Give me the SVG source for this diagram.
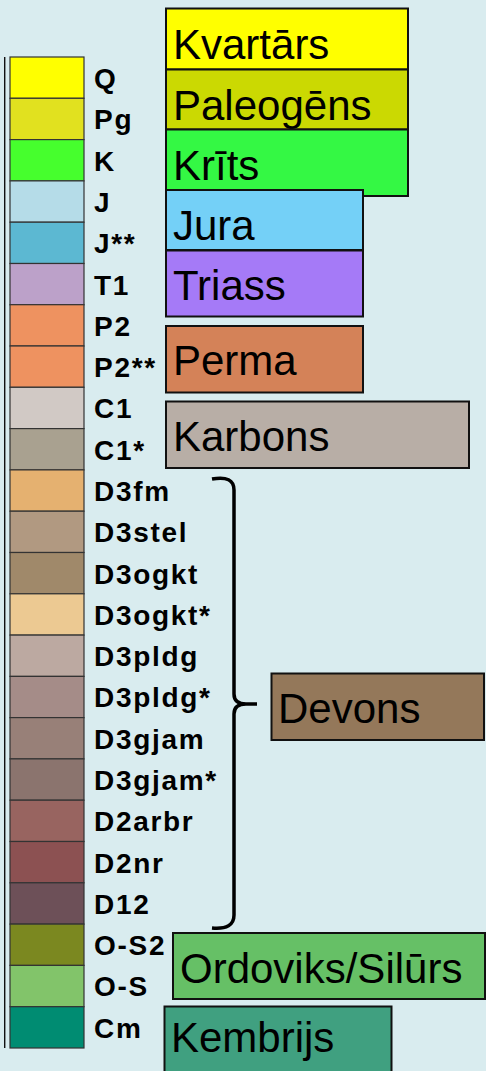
<svg xmlns="http://www.w3.org/2000/svg" width="486" height="1071" viewBox="0 0 486 1071">
<style>
.sw{stroke:#333;stroke-width:1.2}
.lb{font-family:"Liberation Sans",Arial,sans-serif;font-weight:bold;font-size:28px;letter-spacing:1.7px;fill:#000}
.bx{stroke:#111;stroke-width:2}
.bt{font-family:"Liberation Sans",Arial,sans-serif;font-size:42px;fill:#000}
</style>
<rect width="486" height="1071" fill="#d9ecef"/>
<line x1="4.7" y1="57" x2="4.7" y2="1048" stroke="#111" stroke-width="1.4"/>
<g id="legend">
<g id="sw-Q"><rect class="sw" x="10" y="57" width="74" height="41.3" fill="#ffff00"/><text class="lb" x="94" y="88">Q</text></g>
<g id="sw-Pg"><rect class="sw" x="10" y="98.3" width="74" height="41.3" fill="#e1e11f"/><text class="lb" x="94" y="129.3">Pg</text></g>
<g id="sw-K"><rect class="sw" x="10" y="139.6" width="74" height="41.3" fill="#46ff2d"/><text class="lb" x="94" y="170.6">K</text></g>
<g id="sw-J"><rect class="sw" x="10" y="180.9" width="74" height="41.3" fill="#b5dce8"/><text class="lb" x="94" y="211.9">J</text></g>
<g id="sw-J2"><rect class="sw" x="10" y="222.2" width="74" height="41.3" fill="#5cb8d2"/><text class="lb" x="94" y="253.2">J**</text></g>
<g id="sw-T1"><rect class="sw" x="10" y="263.5" width="74" height="41.3" fill="#bca1c9"/><text class="lb" x="94" y="294.5">T1</text></g>
<g id="sw-P2"><rect class="sw" x="10" y="304.7" width="74" height="41.3" fill="#ee9260"/><text class="lb" x="94" y="335.7">P2</text></g>
<g id="sw-P2b"><rect class="sw" x="10" y="346" width="74" height="41.3" fill="#ee9260"/><text class="lb" x="94" y="377">P2**</text></g>
<g id="sw-C1"><rect class="sw" x="10" y="387.3" width="74" height="41.3" fill="#d1c9c5"/><text class="lb" x="94" y="418.3">C1</text></g>
<g id="sw-C1b"><rect class="sw" x="10" y="428.6" width="74" height="41.3" fill="#a9a190"/><text class="lb" x="94" y="459.6">C1*</text></g>
<g id="sw-D3fm"><rect class="sw" x="10" y="469.9" width="74" height="41.3" fill="#e5b170"/><text class="lb" x="94" y="500.9">D3fm</text></g>
<g id="sw-D3stel"><rect class="sw" x="10" y="511.2" width="74" height="41.3" fill="#b19981"/><text class="lb" x="94" y="542.2">D3stel</text></g>
<g id="sw-D3ogkt"><rect class="sw" x="10" y="552.5" width="74" height="41.3" fill="#a0896a"/><text class="lb" x="94" y="583.5">D3ogkt</text></g>
<g id="sw-D3ogkt2"><rect class="sw" x="10" y="593.8" width="74" height="41.3" fill="#ecc992"/><text class="lb" x="94" y="624.8">D3ogkt*</text></g>
<g id="sw-D3pldg"><rect class="sw" x="10" y="635.1" width="74" height="41.3" fill="#bca9a1"/><text class="lb" x="94" y="666.1">D3pldg</text></g>
<g id="sw-D3pldg2"><rect class="sw" x="10" y="676.4" width="74" height="41.3" fill="#a58c88"/><text class="lb" x="94" y="707.4">D3pldg*</text></g>
<g id="sw-D3gjam"><rect class="sw" x="10" y="717.6" width="74" height="41.3" fill="#988078"/><text class="lb" x="94" y="748.6">D3gjam</text></g>
<g id="sw-D3gjam2"><rect class="sw" x="10" y="758.9" width="74" height="41.3" fill="#8b746e"/><text class="lb" x="94" y="789.9">D3gjam*</text></g>
<g id="sw-D2arbr"><rect class="sw" x="10" y="800.2" width="74" height="41.3" fill="#986460"/><text class="lb" x="94" y="831.2">D2arbr</text></g>
<g id="sw-D2nr"><rect class="sw" x="10" y="841.5" width="74" height="41.3" fill="#8c5152"/><text class="lb" x="94" y="872.5">D2nr</text></g>
<g id="sw-D12"><rect class="sw" x="10" y="882.8" width="74" height="41.3" fill="#6d5058"/><text class="lb" x="94" y="913.8">D12</text></g>
<g id="sw-OS2"><rect class="sw" x="10" y="924.1" width="74" height="41.3" fill="#7b8820"/><text class="lb" x="94" y="955.1">O-S2</text></g>
<g id="sw-OS"><rect class="sw" x="10" y="965.4" width="74" height="41.3" fill="#82c46a"/><text class="lb" x="94" y="996.4">O-S</text></g>
<g id="sw-Cm"><rect class="sw" x="10" y="1006.7" width="74" height="41.3" fill="#008c72"/><text class="lb" x="94" y="1037.7">Cm</text></g>
</g>
<g id="connectors">
<path d="M212 479 Q234 475 234 490 L234 694 Q234 704 246 704 L257 704 M246 704 Q234 704 234 714 L234 915 Q234 930 212 928" fill="none" stroke="#000" stroke-width="3.5"/>
</g>
<g id="box-kvartars"><rect class="bx" x="166" y="8.5" width="242" height="61" fill="#ffff00"/><text class="bt" x="173" y="59">Kvartārs</text></g>
<g id="box-paleogens"><rect class="bx" x="166" y="69.5" width="242" height="60" fill="#cbd902"/><text class="bt" x="173" y="119.5">Paleogēns</text></g>
<g id="box-krits"><rect class="bx" x="166" y="129.5" width="242" height="66.5" fill="#34f844"/><text class="bt" x="173" y="180">Krīts</text></g>
<g id="box-jura"><rect class="bx" x="166" y="190" width="197" height="60" fill="#74d0f7"/><text class="bt" x="173" y="240">Jura</text></g>
<g id="box-triass"><rect class="bx" x="166" y="250.5" width="197" height="66" fill="#a57af7"/><text class="bt" x="173" y="300">Triass</text></g>
<g id="box-perma"><rect class="bx" x="166" y="326" width="197" height="66.5" fill="#d48258"/><text class="bt" x="173" y="375">Perma</text></g>
<g id="box-karbons"><rect class="bx" x="166" y="401.5" width="303" height="66.5" fill="#b8aea6"/><text class="bt" x="173" y="451">Karbons</text></g>
<g id="box-devons"><rect class="bx" x="271.5" y="673.5" width="212.5" height="66.5" fill="#94785a"/><text class="bt" x="278" y="723">Devons</text></g>
<g id="box-ordoviks"><rect class="bx" x="173" y="933" width="312" height="66" fill="#66c066"/><text class="bt" x="180" y="983">Ordoviks/Silūrs</text></g>
<g id="box-kembrijs"><rect class="bx" x="164.5" y="1006.5" width="227" height="70" fill="#40a080"/><text class="bt" x="171" y="1052">Kembrijs</text></g>
</svg>
